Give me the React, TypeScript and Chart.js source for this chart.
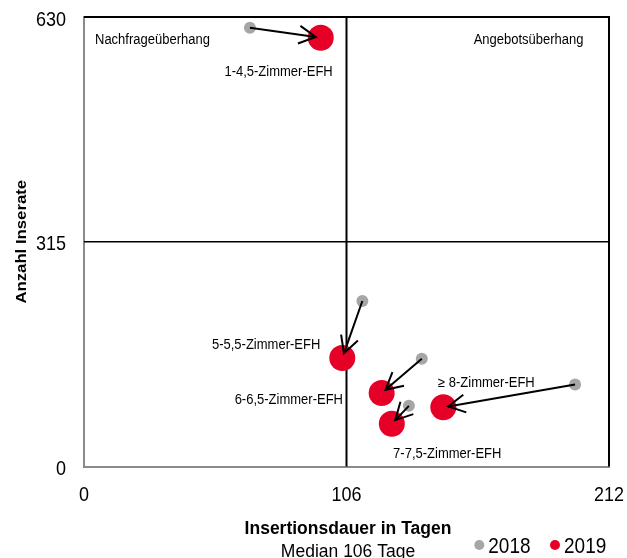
import React, { useEffect, useRef } from "react";
import { Chart, registerables } from "chart.js";

Chart.register(...registerables);

// ---- data ----
const categories = [
  "1-4,5-Zimmer-EFH",
  "5-5,5-Zimmer-EFH",
  "6-6,5-Zimmer-EFH",
  "7-7,5-Zimmer-EFH",
  "\u2265 8-Zimmer-EFH",
];
const days2018 = [67.0, 112.4, 136.4, 131.2, 198.3];
const listings2018 = [615, 232, 151, 85, 115];
const days2019 = [95.6, 104.3, 120.2, 124.3, 145.1];
const listings2019 = [601, 152, 103, 60, 83];
const xTicks = [0, 106, 212];
const yTicks = [0, 315, 630];
const medianDays = 106;
const medianListings = 315;
const seriesLabels = ["2018", "2019"];

// ---- styles ----
const GRAY = "#a6a6a6";
const RED = "#e60028";
const AXIS_GRAY = "#8a8a8a";
const FAMILY = "'Liberation Sans', Arial, Helvetica, sans-serif";
// label placement relative to the 2019 point: [dx, dy, align]
const labelPlacement: [number, number, CanvasTextAlign][] = [
  [12, 38.7, "right"],
  [-22, -8.7, "right"],
  [-38.7, 10.7, "right"],
  [1.3, 34.3, "left"],
  [-5.3, -20.6, "left"],
];

function txt(
  ctx: CanvasRenderingContext2D,
  s: string,
  x: number,
  y: number,
  font: string,
  align: CanvasTextAlign,
  sy: number
) {
  ctx.save();
  ctx.translate(x, y);
  ctx.scale(1, sy);
  ctx.font = font;
  ctx.textAlign = align;
  ctx.textBaseline = "alphabetic";
  ctx.fillStyle = "#000";
  ctx.fillText(s, 0, 0);
  ctx.restore();
}

const decorPlugin = {
  id: "decor",
  beforeDatasetsDraw(chart: any) {
    const { ctx, chartArea: a, scales } = chart;
    const xs = scales.x;
    const ys = scales.y;
    ctx.save();
    ctx.strokeStyle = "#000";
    // top & right frame
    ctx.lineWidth = 2;
    ctx.beginPath();
    ctx.moveTo(a.left, a.top);
    ctx.lineTo(a.right, a.top);
    ctx.lineTo(a.right, a.bottom);
    ctx.stroke();
    // median crosshair
    const mx = xs.getPixelForValue(medianDays);
    ctx.lineWidth = 2;
    ctx.beginPath();
    ctx.moveTo(mx, a.top);
    ctx.lineTo(mx, a.bottom);
    ctx.stroke();
    const my = ys.getPixelForValue(medianListings);
    ctx.lineWidth = 1.6;
    ctx.beginPath();
    ctx.moveTo(a.left, my);
    ctx.lineTo(a.right, my);
    ctx.stroke();
    ctx.restore();
  },
  afterDatasetsDraw(chart: any) {
    const { ctx, scales } = chart;
    const xs = scales.x;
    const ys = scales.y;
    ctx.save();
    ctx.strokeStyle = "#000";
    ctx.lineWidth = 2;
    ctx.lineCap = "butt";
    for (let i = 0; i < categories.length; i++) {
      const x0 = xs.getPixelForValue(days2018[i]);
      const y0 = ys.getPixelForValue(listings2018[i]);
      const x1 = xs.getPixelForValue(days2019[i]);
      const y1 = ys.getPixelForValue(listings2019[i]);
      const len = Math.hypot(x1 - x0, y1 - y0);
      const ux = (x1 - x0) / len;
      const uy = (y1 - y0) / len;
      const tx = x1 - ux * 5;
      const ty = y1 - uy * 5;
      ctx.beginPath();
      ctx.moveTo(x0, y0);
      ctx.lineTo(tx, ty);
      ctx.stroke();
      const ang = Math.atan2(uy, ux) + Math.PI;
      const hl = 19;
      const ha = (28 * Math.PI) / 180;
      ctx.beginPath();
      ctx.moveTo(tx + Math.cos(ang - ha) * hl, ty + Math.sin(ang - ha) * hl);
      ctx.lineTo(tx, ty);
      ctx.lineTo(tx + Math.cos(ang + ha) * hl, ty + Math.sin(ang + ha) * hl);
      ctx.stroke();
    }
    ctx.restore();
  },
  afterDraw(chart: any) {
    const { ctx, chartArea: a, scales } = chart;
    const xs = scales.x;
    const ys = scales.y;
    const tickFont = `18px ${FAMILY}`;
    // y tick labels
    for (const v of yTicks) {
      const p = ys.getPixelForValue(v);
      txt(ctx, String(v), a.left - 18, p + 8.5, tickFont, "right", 1.1);
    }
    // x tick labels
    for (const v of xTicks) {
      const p = xs.getPixelForValue(v);
      txt(ctx, String(v), p, a.bottom + 34, tickFont, "center", 1.1);
    }
    // category labels
    const lblFont = `13px ${FAMILY}`;
    for (let i = 0; i < categories.length; i++) {
      const x1 = xs.getPixelForValue(days2019[i]);
      const y1 = ys.getPixelForValue(listings2019[i]);
      const [dx, dy, al] = labelPlacement[i];
      txt(ctx, categories[i], x1 + dx, y1 + dy, lblFont, al, 1.08);
    }
    // quadrant labels
    txt(ctx, "Nachfrage\u00fcberhang", a.left + 11, a.top + 27, lblFont, "left", 1.08);
    txt(ctx, "Angebots\u00fcberhang", a.right - 25.5, a.top + 27, lblFont, "right", 1.08);
    // axis titles
    const cx = (a.left + a.right) / 2 + 1.5;
    txt(ctx, "Insertionsdauer in Tagen", cx, 533.5, `bold 17.5px ${FAMILY}`, "center", 1.08);
    txt(ctx, "Median 106 Tage", cx, 557, `17.5px ${FAMILY}`, "center", 1.08);
    ctx.save();
    ctx.translate(26, (a.top + a.bottom) / 2);
    ctx.rotate(-Math.PI / 2);
    ctx.scale(1.08, 1);
    ctx.font = `bold 15.5px ${FAMILY}`;
    ctx.textAlign = "center";
    ctx.textBaseline = "alphabetic";
    ctx.fillStyle = "#000";
    ctx.fillText("Anzahl Inserate", 0, 0);
    ctx.restore();
    // legend
    const legFont = `19px ${FAMILY}`;
    const items: [string, string, number][] = [
      [seriesLabels[0], GRAY, 479.3],
      [seriesLabels[1], RED, 555],
    ];
    for (const [label, color, dotX] of items) {
      ctx.save();
      ctx.fillStyle = color;
      ctx.beginPath();
      ctx.arc(dotX, 545, 5, 0, Math.PI * 2);
      ctx.fill();
      ctx.restore();
      txt(ctx, label, dotX + 9, 553.3, legFont, "left", 1.12);
    }
  },
};

export default function App() {
  const ref = useRef<HTMLCanvasElement | null>(null);
  useEffect(() => {
    document.body.style.margin = "0";
    const canvas = ref.current;
    if (!canvas) return;
    const chart = new Chart(canvas, {
      type: "scatter",
      data: {
        datasets: [
          {
            label: seriesLabels[0],
            data: days2018.map((x, i) => ({ x, y: listings2018[i] })),
            backgroundColor: GRAY,
            borderWidth: 0,
            pointRadius: 6,
            pointHoverRadius: 6,
          },
          {
            label: seriesLabels[1],
            data: days2019.map((x, i) => ({ x, y: listings2019[i] })),
            backgroundColor: RED,
            borderWidth: 0,
            pointRadius: 13,
            pointHoverRadius: 13,
          },
        ],
      },
      options: {
        responsive: false,
        animation: false,
        devicePixelRatio: 1,
        layout: { padding: { left: 0, top: 17, right: 18, bottom: 0 } },
        plugins: {
          legend: { display: false },
          tooltip: { enabled: false },
          title: { display: false },
        },
        scales: {
          x: {
            type: "linear",
            min: 0,
            max: 212,
            grid: { display: false, drawTicks: false },
            border: { display: true, color: AXIS_GRAY, width: 2 },
            ticks: { display: false },
            afterBuildTicks: (s: any) => {
              s.ticks = xTicks.map((value) => ({ value }));
            },
            afterFit: (s: any) => {
              s.height = 91.5;
            },
          },
          y: {
            type: "linear",
            min: 0,
            max: 630,
            grid: { display: false, drawTicks: false },
            border: { display: true, color: AXIS_GRAY, width: 2 },
            ticks: { display: false },
            afterBuildTicks: (s: any) => {
              s.ticks = yTicks.map((value) => ({ value }));
            },
            afterFit: (s: any) => {
              s.width = 84;
            },
          },
        },
      },
      plugins: [decorPlugin],
    });
    return () => chart.destroy();
  }, []);
  return (
    <div style={{ width: 627, height: 558 }}>
      <canvas ref={ref} width={627} height={558} style={{ display: "block" }} />
    </div>
  );
}
